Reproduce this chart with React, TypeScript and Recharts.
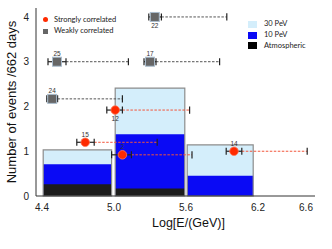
import {
  ComposedChart,
  XAxis,
  YAxis,
  Scatter,
  ErrorBar,
  ReferenceArea,
  ReferenceLine,
  LabelList,
} from 'recharts';

// histogram bins (log10 E/GeV) and stacked expectations
const binStart = [4.41, 5.01, 5.61];
const binEnd = [4.98, 5.59, 6.16];
const atmospheric = [0.26, 0.17, 0.0];
const pev10 = [0.71, 1.38, 0.45];
const pev30 = [1.03, 2.41, 1.14];

// strongly correlated events
const strongIds = [12, 15, 2, 14];
const strongE = [5.01, 4.76, 5.07, 6.0];
const strongN = [1.92, 1.2, 0.92, 1.0];
const strongErrLo = [0.07, 0.07, 0.09, 0.065];
const strongErrHi = [0.06, 0.075, 0.075, 0.065];
const strongLimit = [5.63, 5.36, 5.65, 6.61];

// weakly correlated events
const weakIds = [22, 25, 17, 24];
const weakE = [5.34, 4.525, 5.3, 4.485];
const weakN = [4.0, 3.0, 3.0, 2.17];
const weakErrLo = [0.05, 0.075, 0.05, 0.045];
const weakErrHi = [0.055, 0.075, 0.05, 0.045];
const weakLimit = [5.94, 5.12, 5.88, 5.07];

const labelBelow = [12, 22];

const xTicks = [4.4, 5.0, 5.6, 6.2, 6.6];
const xMinorTicks = [4.4, 4.5, 4.6, 4.7, 4.8, 4.9, 5.0, 5.1, 5.2, 5.3, 5.4, 5.5, 5.6, 5.7, 5.8, 5.9, 6.0, 6.1, 6.2, 6.3, 6.4, 6.5, 6.6];
const yTicks = [0, 1, 2, 3, 4];
const yMinorTicks = [0, 0.2, 0.4, 0.6, 0.8, 1, 1.2, 1.4, 1.6, 1.8, 2, 2.2, 2.4, 2.6, 2.8, 3, 3.2, 3.4, 3.6, 3.8, 4, 4.2];

const xDomain = [4.35, 6.675];
const yDomain = [0, 4.2];

const strongData = strongIds.map((id, i) => ({
  id,
  x: strongE[i],
  y: strongN[i],
  err: [strongErrLo[i], strongErrHi[i]],
  limit: strongLimit[i],
}));
const weakData = weakIds.map((id, i) => ({
  id,
  x: weakE[i],
  y: weakN[i],
  err: [weakErrLo[i], weakErrHi[i]],
  limit: weakLimit[i],
}));

const axisColor = '#333';
const font = '"Liberation Sans", Arial, sans-serif';

const StrongDot = (p: any) => (
  <circle cx={p.cx} cy={p.cy} r={4.3} fill="#ff2a00" stroke="#ff7a5a" strokeWidth={0.8} />
);
const WeakSquare = (p: any) => (
  <rect x={p.cx - 4.5} y={p.cy - 4.5} width={9} height={9} fill="#666" stroke="#a9bccd" strokeWidth={1} />
);

const renderId = (props: any) => {
  const vb = props.viewBox ?? props;
  const cx = vb.x + (vb.width ?? 0) / 2;
  const cy = vb.y + (vb.height ?? 0) / 2;
  const below = labelBelow.includes(Number(props.value));
  return (
    <text x={cx} y={below ? cy + 11 : cy - 5.5} textAnchor="middle" fontSize={6.5} fill="#333" fontFamily={font}>
      {props.value}
    </text>
  );
};

const limitLines = (data: typeof strongData, color: string) =>
  data.flatMap((d) => [
    <ReferenceLine
      key={`dash-${d.id}`}
      segment={[{ x: d.x + d.err[1], y: d.y }, { x: d.limit, y: d.y }]}
      stroke={color}
      strokeWidth={1}
      strokeDasharray="2.5 1.5"
    />,
    <ReferenceLine
      key={`cap-${d.id}`}
      segment={[{ x: d.limit, y: d.y - 0.08 }, { x: d.limit, y: d.y + 0.08 }]}
      stroke="#222"
      strokeWidth={1.2}
    />,
  ]);

const legendText = { fontFamily: 'Lato, sans-serif', fontSize: 7.5, color: '#222', lineHeight: '10px' };

export default function App() {
  return (
    <div style={{ position: 'absolute', left: 0, top: 0, width: 332, height: 249, background: '#fff' }}>
      <ComposedChart width={332} height={249} margin={{ top: 8, right: 17, bottom: 0, left: 0 }}>
        <XAxis
          type="number"
          dataKey="x"
          domain={xDomain}
          allowDataOverflow
          ticks={xTicks}
          interval={0}
          tickFormatter={(v: number) => v.toFixed(1)}
          tickLine={false}
          tickSize={0}
          tickMargin={8}
          axisLine={{ stroke: axisColor }}
          height={53}
          tick={{ fill: '#222', fontSize: 10, fontFamily: font }}
          label={{ value: 'Log[E/(GeV)]', position: 'insideBottom', offset: 22, dx: 13, fill: '#111', fontSize: 12.5, fontFamily: font }}
        />
        <XAxis xAxisId="minB" type="number" domain={xDomain} allowDataOverflow ticks={xMinorTicks} interval={0} tick={false} tickSize={2.5} mirror height={0} axisLine={false} tickLine={{ stroke: axisColor }} />
        <XAxis xAxisId="majB" type="number" domain={xDomain} allowDataOverflow ticks={xTicks} interval={0} tick={false} tickSize={4.5} mirror height={0} axisLine={false} tickLine={{ stroke: axisColor }} />
        <XAxis xAxisId="minT" orientation="top" type="number" domain={xDomain} allowDataOverflow ticks={xMinorTicks} interval={0} tick={false} tickSize={2.5} mirror height={0} axisLine={{ stroke: axisColor }} tickLine={{ stroke: axisColor }} />
        <YAxis
          type="number"
          dataKey="y"
          domain={yDomain}
          allowDataOverflow
          ticks={yTicks}
          interval={0}
          tickLine={false}
          tickSize={0}
          tickMargin={7}
          axisLine={{ stroke: axisColor }}
          width={36}
          tick={{ fill: '#222', fontSize: 10, fontFamily: font }}
          label={{ value: 'Number of events /662 days', angle: -90, position: 'insideLeft', offset: 11, fill: '#111', fontSize: 13, fontFamily: font, style: { textAnchor: 'middle' } }}
        />
        <YAxis yAxisId="minL" type="number" domain={yDomain} allowDataOverflow ticks={yMinorTicks} interval={0} tick={false} tickSize={2.5} mirror width={0} axisLine={false} tickLine={{ stroke: axisColor }} />
        <YAxis yAxisId="majL" type="number" domain={yDomain} allowDataOverflow ticks={yTicks} interval={0} tick={false} tickSize={4.5} mirror width={0} axisLine={false} tickLine={{ stroke: axisColor }} />
        <YAxis yAxisId="minR" orientation="right" type="number" domain={yDomain} allowDataOverflow ticks={yMinorTicks} interval={0} tick={false} tickSize={2.5} mirror width={0} axisLine={{ stroke: axisColor }} tickLine={{ stroke: axisColor }} />

        {binStart.map((s, i) => (
          <ReferenceArea key={`p30-${i}`} x1={s} x2={binEnd[i]} y1={0} y2={pev30[i]} fill="#d4eefb" fillOpacity={1} stroke="none" />
        ))}
        {binStart.map((s, i) => (
          <ReferenceArea key={`p10-${i}`} x1={s} x2={binEnd[i]} y1={0} y2={pev10[i]} fill="#0a0af5" fillOpacity={1} stroke="none" />
        ))}
        {binStart.map((s, i) =>
          atmospheric[i] > 0 ? (
            <ReferenceArea key={`atm-${i}`} x1={s} x2={binEnd[i]} y1={0} y2={atmospheric[i]} fill="#1c1c1c" fillOpacity={1} stroke="none" />
          ) : null
        )}
        {binStart.map((s, i) => (
          <ReferenceArea key={`out-${i}`} x1={s} x2={binEnd[i]} y1={0} y2={pev30[i]} fill="none" stroke="#8c8c8c" strokeWidth={1.2} />
        ))}

        {limitLines(weakData, '#555')}
        {limitLines(strongData, '#f2553a')}

        <Scatter data={weakData} shape={WeakSquare} isAnimationActive={false}>
          <ErrorBar dataKey="err" direction="x" width={3.5} stroke="#222" strokeWidth={1.2} />
          <LabelList dataKey="id" content={renderId} />
        </Scatter>
        <Scatter data={strongData} shape={StrongDot} isAnimationActive={false}>
          <ErrorBar dataKey="err" direction="x" width={3.5} stroke="#222" strokeWidth={1.2} />
          <LabelList dataKey="id" content={renderId} />
        </Scatter>
      </ComposedChart>

      <div style={{ position: 'absolute', left: 43, top: 14, ...legendText }}>
        <div style={{ display: 'flex', alignItems: 'center', height: 11.5 }}>
          <span style={{ width: 5, height: 5, borderRadius: '50%', background: '#ff2a00', marginRight: 6 }} />
          <span>Strongly correlated</span>
        </div>
        <div style={{ display: 'flex', alignItems: 'center', height: 11.5 }}>
          <span style={{ width: 5, height: 5, background: '#666', marginRight: 6 }} />
          <span>Weakly correlated</span>
        </div>
      </div>

      <div style={{ position: 'absolute', left: 248, top: 19, ...legendText }}>
        {[
          ['30 PeV', '#d4eefb'],
          ['10 PeV', '#0a0af5'],
          ['Atmospheric', '#000'],
        ].map(([name, color]) => (
          <div key={name} style={{ display: 'flex', alignItems: 'center', height: 10.7 }}>
            <span style={{ width: 9, height: 7, background: color, marginRight: 7 }} />
            <span>{name}</span>
          </div>
        ))}
      </div>
    </div>
  );
}
